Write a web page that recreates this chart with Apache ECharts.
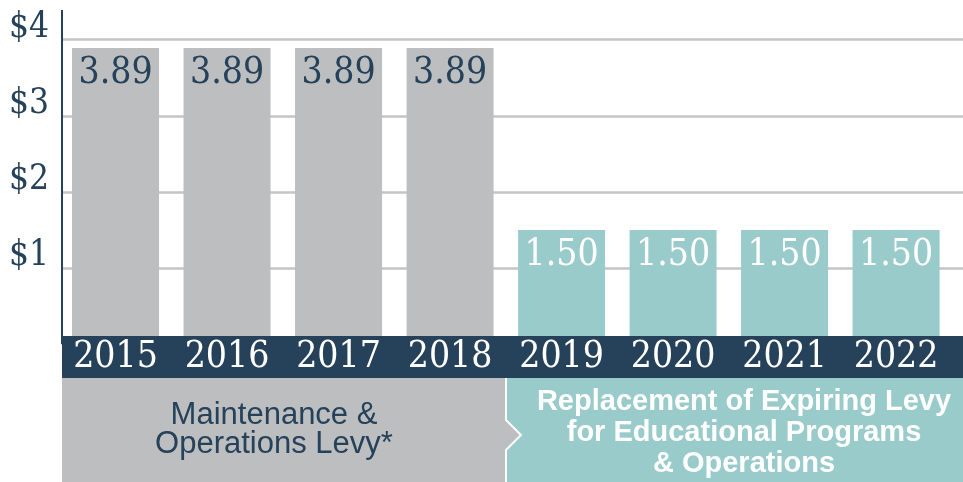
<!DOCTYPE html>
<html>
<head>
<meta charset="utf-8">
<script src="https://cdn.jsdelivr.net/npm/echarts@6/dist/echarts.min.js"></script>
<style>
  html, body { margin: 0; padding: 0; background: #fff; }
  #levyChart { width: 963px; height: 482px; }
</style>
</head>
<body>
<div id="levyChart"></div>
<script>
var years = [2015, 2016, 2017, 2018, 2019, 2020, 2021, 2022];
var levyRates = [3.89, 3.89, 3.89, 3.89, 1.50, 1.50, 1.50, 1.50];
var yTicks = [1, 2, 3, 4];
var replacementStart = 2019;
var groupLabels = ['Maintenance &\nOperations Levy*', 'Replacement of Expiring Levy\nfor Educational Programs\n& Operations'];

var NAVY = '#26415a';
var GRAY = '#bdbec0';
var TEAL = '#9acbcb';
var SERIF = '"DejaVu Serif Condensed", "DejaVu Serif", serif';

var chart = echarts.init(document.getElementById('levyChart'));

var barData = years.map(function (year, i) {
    var isReplacement = year >= replacementStart;
    return {
        value: [year, levyRates[i]],
        itemStyle: { color: isReplacement ? TEAL : GRAY },
        label: { color: isReplacement ? '#ffffff' : NAVY }
    };
});

var option = {
    animation: false,
    backgroundColor: '#ffffff',
    grid: { left: 62, right: 0, top: 10, bottom: 137.7 },
    xAxis: {
        type: 'value',
        min: 2014.52,
        max: 2022.6,
        z: 5,
        offset: 12.7,
        axisLine: { onZero: false, lineStyle: { color: NAVY, width: 42, cap: 'butt' } },
        axisTick: { show: false },
        splitLine: { show: false },
        axisLabel: {
            customValues: years,
            margin: 0,
            verticalAlign: 'middle',
            color: '#ffffff',
            fontFamily: SERIF,
            fontSize: 37,
            formatter: function (v) { return String(v); }
        }
    },
    yAxis: {
        type: 'value',
        min: 0,
        max: 4.39,
        interval: 1,
        z: 1,
        axisLine: { show: true, onZero: false, lineStyle: { color: NAVY, width: 2, cap: 'butt' } },
        axisTick: { show: false },
        splitLine: {
            show: true,
            showMinLine: false,
            showMaxLine: false,
            lineStyle: { color: '#c4c5c6', width: 2.5 }
        },
        axisLabel: {
            showMaxLabel: false,
            margin: 13,
            color: NAVY,
            fontFamily: SERIF,
            fontSize: 35,
            verticalAlign: 'bottom',
            lineHeight: 24,
            formatter: function (v) { return yTicks.indexOf(v) >= 0 ? '$' + v : ''; }
        }
    },
    series: [{
        type: 'bar',
        barWidth: 87,
        z: 2,
        data: barData,
        label: {
            show: true,
            position: 'insideTop',
            distance: 7,
            fontFamily: SERIF,
            fontSize: 37,
            formatter: function (p) { return p.value[1].toFixed(2); }
        }
    }],
    graphic: [
        {
            type: 'rect', z: 10,
            shape: { x: 505, y: 378, width: 458, height: 104 },
            style: { fill: TEAL }
        },
        {
            type: 'polygon', z: 11,
            shape: { points: [[62, 378], [505, 378], [505, 420], [520, 435], [505, 450], [505, 482], [62, 482]] },
            style: { fill: GRAY }
        },
        {
            type: 'polyline', z: 12,
            shape: { points: [[506, 378], [506, 420], [521, 435], [506, 450], [506, 482]] },
            style: { stroke: '#ffffff', lineWidth: 2, fill: null }
        },
        {
            type: 'text', z: 13,
            x: 274, y: 430,
            style: {
                text: groupLabels[0],
                fill: NAVY,
                font: '31px "Liberation Sans", Arial, sans-serif',
                lineHeight: 29,
                align: 'center',
                verticalAlign: 'middle'
            }
        },
        {
            type: 'text', z: 13,
            x: 744, y: 433,
            style: {
                text: groupLabels[1],
                fill: '#ffffff',
                font: 'bold 29px "Liberation Sans", Arial, sans-serif',
                lineHeight: 31,
                align: 'center',
                verticalAlign: 'middle'
            }
        }
    ]
};

chart.setOption(option);
</script>
</body>
</html>
